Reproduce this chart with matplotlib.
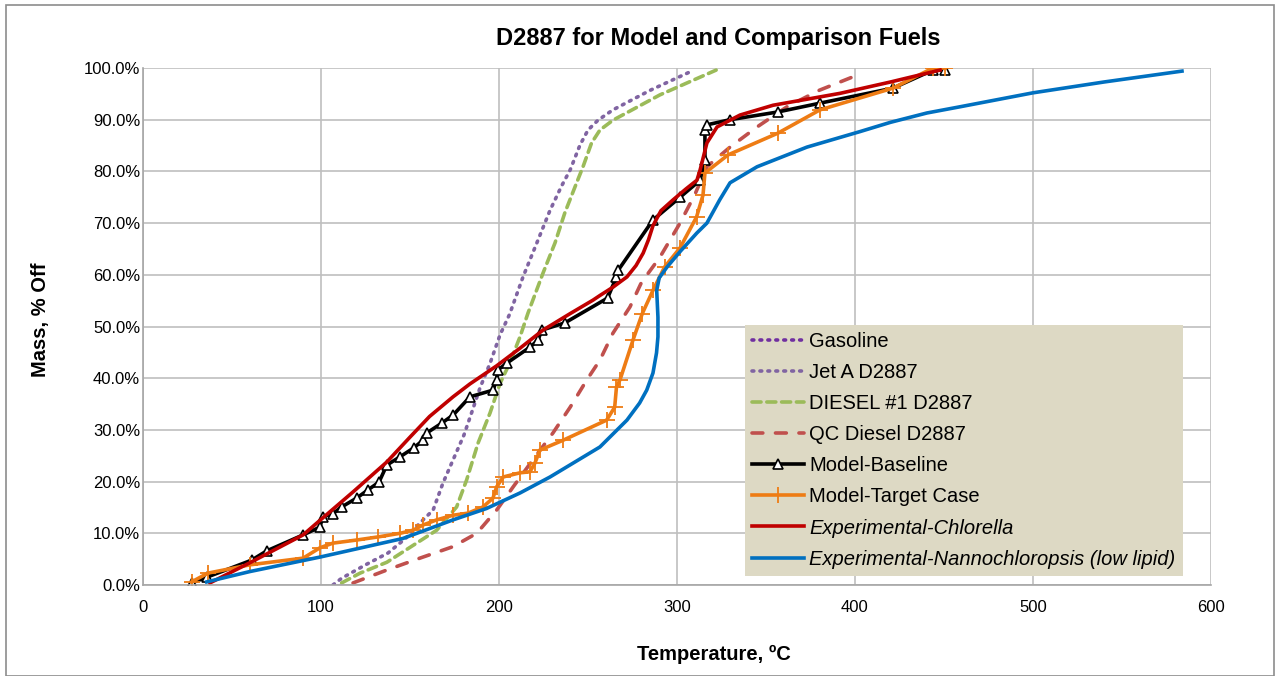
import matplotlib
matplotlib.use("Agg")
import matplotlib.pyplot as plt
from matplotlib.patches import Rectangle
from matplotlib.ticker import FuncFormatter

plt.rcParams['font.family'] = ['Liberation Sans', 'DejaVu Sans']

# temperature (C) / mass off (%)
gas_t = []
gas_y = []

jet_t = [106.7, 111.6, 125, 137.7, 147.8, 155.6, 163, 168.5, 174.2, 180.3, 184.8, 189.3,
         195, 200.6, 206, 213.5, 221.3, 228.7, 235.2, 240, 245.5, 250, 255.6, 264, 285, 307]
jet_y = [0, 1.3, 3.9, 6.2, 9.1, 12, 14.5, 19.7, 24.2, 29, 33.5, 38.1,
         42.9, 48.4, 52.4, 59.6, 66.2, 72.5, 77.2, 80.3, 85.1, 88, 89.9, 91.9, 95.7, 99.2]

d1_t = [111.6, 122, 137, 153.7, 165, 176.2, 181.8, 188.3, 195, 200.6, 206, 211.8, 216.3,
        224.7, 231.5, 237, 242.7, 247.2, 252, 256.7, 264, 290.4, 322]
d1_y = [0.4, 2.3, 4.4, 8.1, 10.6, 15.1, 20.3, 27.5, 33.3, 39, 42.9, 48, 52.6,
        60.3, 66.2, 72, 77, 80.9, 85.5, 88, 89.9, 94.8, 99.6]

qc_t = [118, 137, 155.6, 174, 187.5, 198.7, 208, 219, 230.3, 240, 249.4, 256.7, 264, 273.6,
        280, 290.4, 301.7, 310, 316.8, 329.8, 345, 361.8, 380, 404]
qc_y = [0.4, 2.9, 5.2, 7.4, 10, 14.5, 19, 24.2, 29.4, 34.4, 39.7, 43.5, 48.7, 53.8,
        58.5, 63.4, 70, 75.5, 80.9, 84.7, 88.6, 92.5, 95.7, 99]

base_t = [27.3, 35.8, 61, 69.5, 90, 99.4, 101, 106.7, 111.6, 120, 126.4, 132.6, 137, 144.4,
          152, 157.3, 159.4, 167.8, 174.3, 183.7, 196.7, 198.7, 199.4, 204.3, 217.4, 222,
          224, 237, 261, 266, 267, 286.5, 301.7, 313, 315.7, 315.7, 316.7, 329.8, 356.7,
          380.3, 421.3, 443.8, 450.6]
base_y = [0.4, 1.5, 4.8, 6.6, 9.7, 11.2, 13.2, 13.8, 15.1, 16.8, 18.4, 19.9, 23.2, 24.8,
          26.5, 28, 29.4, 31.3, 32.9, 36.4, 37.7, 39.7, 41.6, 42.9, 46, 47.4,
          49.3, 50.7, 55.5, 59.6, 60.9, 70.6, 75, 78.3, 82.2, 88, 89, 90, 91.5,
          93.2, 96.1, 99.6, 99.6]

tgt_t = [27.3, 36.5, 60, 90, 99.4, 106.7, 120, 132, 144.4, 151.7, 157.3, 165, 174.2, 182.6,
         191, 196.6, 198.7, 202.4, 211.8, 217.4, 220.2, 223, 236, 260.5, 265, 266, 268,
         275.3, 280.5, 286.5, 293, 301.7, 311, 314.6, 315.7, 328.7, 356.7, 380.3, 421.3,
         443.8, 450.6]
tgt_y = [0.6, 2.3, 3.9, 5.2, 7.2, 8.1, 8.7, 9.3, 10, 10.6, 11.6, 12.6, 13.5, 13.9,
         15.1, 16.8, 19, 20.9, 21.7, 21.9, 23.6, 26.1, 28, 31.9, 34.4, 38.3, 39.7,
         47.4, 52.5, 57, 61.5, 65.2, 71.2, 75.4, 79.7, 83.2, 87.4, 91.9, 96.1,
         100, 100]

chl_t = [37.6, 60, 90, 99.4, 118, 137, 150, 161, 174.2, 183.7, 198.7, 211.8, 224.7, 240,
         252.8, 256.7, 264, 271.9, 277, 281, 284, 286.5, 291, 297.8, 305, 311.2, 313,
         316.8, 322.5, 335.4, 354, 391.6, 420, 447.8]
chl_y = [0.4, 4.3, 9.7, 12.5, 18, 23.8, 28.6, 32.6, 36.4, 38.9, 42.4, 45.8, 49.3, 52.5,
         55.1, 56, 57.6, 59.6, 61.8, 64.2, 66.8, 69.5, 72.4, 74.5, 76.6, 78.3, 80.3,
         85.5, 88.6, 90.9, 92.8, 95.1, 97.3, 99.6]

nan_t = [35.8, 60, 99.4, 146, 174.2, 193, 211.8, 228.7, 256.7, 271.9, 279, 283, 286.5,
         288.5, 289.3, 289.3, 288.6, 290, 294.4, 302, 311.2, 316.8, 324, 329.8, 345, 373,
         402.8, 420, 440.4, 459, 500, 540, 583.7]
nan_y = [0.6, 2.6, 5.4, 9.0, 12.6, 14.8, 17.8, 20.9, 26.7, 31.9, 35.2, 37.7, 41,
         44.9, 48, 51.8, 57, 59.4, 61.5, 64.6, 68.1, 70, 74.5, 77.8, 80.9, 84.7,
         87.7, 89.5, 91.3, 92.5, 95.2, 97.3, 99.4]

fig = plt.figure(figsize=(12.8, 6.76), dpi=100)
ax = fig.add_axes([0.1117, 0.1346, 0.8344, 0.7648])

lw = 2.6
ax.plot(gas_t, gas_y, color='#7030A0', linestyle=(0, (0.5, 1.7)), dash_capstyle='round',
        linewidth=lw, label='Gasoline')
ax.plot(jet_t, jet_y, color='#8064A2', linestyle=(0, (0.5, 1.7)), dash_capstyle='round',
        linewidth=lw, label='Jet A D2887')
ax.plot(d1_t, d1_y, color='#9BBB59', linestyle=(0, (2.5, 1.6)), dash_capstyle='round',
        linewidth=lw, label='DIESEL #1 D2887')
ax.plot(qc_t, qc_y, color='#C0504D', linestyle=(0, (3, 3.5)), dash_capstyle='round',
        linewidth=lw, label='QC Diesel D2887')
ax.plot(base_t, base_y, color='black', linewidth=lw, marker='^', markersize=7,
        markerfacecolor='white', markeredgecolor='black', markeredgewidth=1.2,
        label='Model-Baseline')
ax.plot(tgt_t, tgt_y, color='#EE7C14', linewidth=lw, marker='+', markersize=11,
        markeredgewidth=1.3, label='Model-Target Case')
ax.plot(chl_t, chl_y, color='#C00000', linewidth=lw, label='Experimental-Chlorella')
ax.plot(nan_t, nan_y, color='#0070C0', linewidth=lw,
        label='Experimental-Nannochloropsis (low lipid)')

ax.set_xlim(0, 600)
ax.set_ylim(0, 100)
ax.set_xticks(range(0, 601, 100))
ax.set_yticks(range(0, 101, 10))
ax.yaxis.set_major_formatter(FuncFormatter(lambda v, p: f'{v:.1f}%'))
ax.tick_params(labelsize=12, length=0)
ax.tick_params(axis='x', pad=11)
ax.tick_params(axis='y', pad=2)
ax.grid(color='#BFBFBF', linewidth=1.2)
ax.set_axisbelow(True)
for s in ['top', 'right']:
    ax.spines[s].set_visible(False)
for s in ['left', 'bottom']:
    ax.spines[s].set_color('#A6A6A6')
    ax.spines[s].set_linewidth(1.2)

ax.set_title('D2887 for Model and Comparison Fuels', fontsize=17, fontweight='bold',
             x=0.539, y=1.058, va='center', pad=0)
ax.set_xlabel('Temperature, \u00baC', fontsize=14.5, fontweight='bold')
ax.xaxis.set_label_coords(0.535, -0.135)
ax.xaxis.label.set_va('center')
ax.set_ylabel('Mass, % Off', fontsize=14.5, fontweight='bold')
ax.yaxis.set_label_coords(-0.0964, 0.514)
ax.yaxis.label.set_va('center')

leg = ax.legend(loc='upper left', bbox_to_anchor=(0.5637, 0.503), fontsize=14.5,
                frameon=True, fancybox=False, borderpad=0.35, labelspacing=0.6,
                handlelength=2.6, handletextpad=0.25, borderaxespad=0)
leg.get_frame().set_facecolor('#DDD9C4')
leg.get_frame().set_edgecolor('none')
leg.get_frame().set_alpha(1)
for t in leg.get_texts()[6:]:
    t.set_fontstyle('italic')

fig.patches.append(Rectangle((0.005, 0.0), 0.99, 0.993, transform=fig.transFigure,
                             fill=False, edgecolor='#8C8C8C', linewidth=1.2))

fig.savefig('out.png', dpi=100)
